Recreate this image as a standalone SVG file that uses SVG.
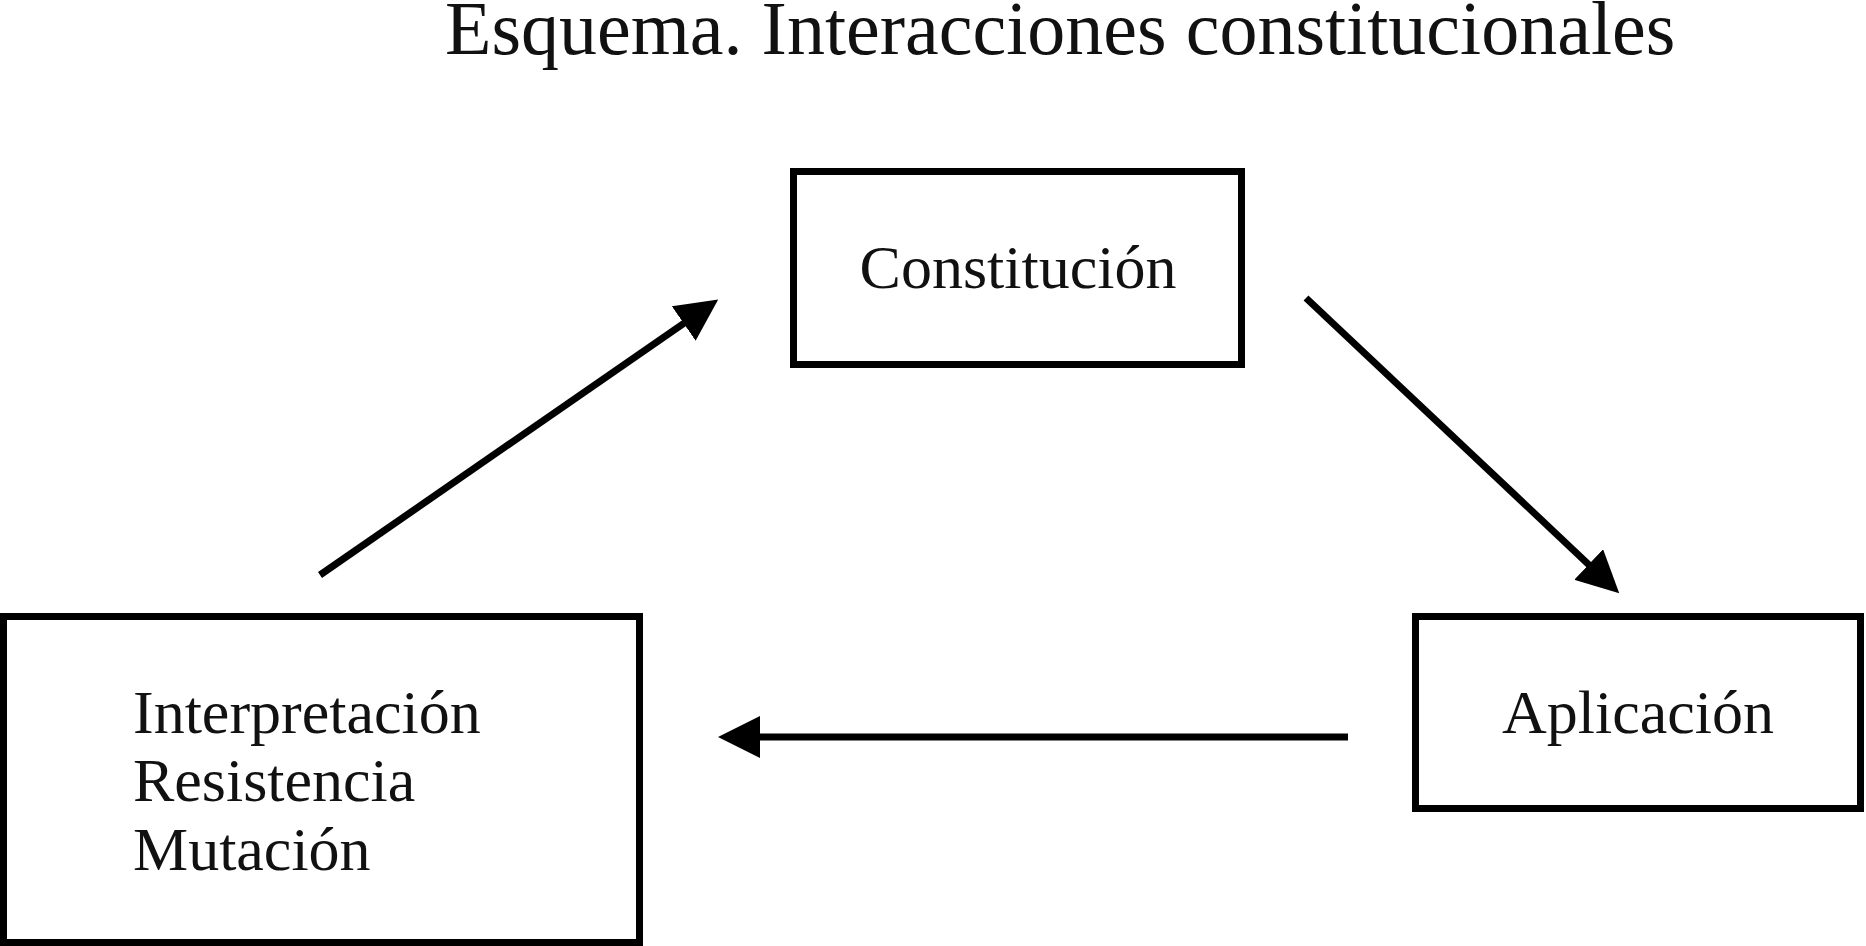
<svg xmlns="http://www.w3.org/2000/svg" width="1866" height="946" viewBox="0 0 1866 946">
  <style>
    .box { fill: #ffffff; stroke: #000000; stroke-width: 7; }
    .lbl { font-family: "Liberation Serif", "Times New Roman", serif; font-size: 62px; fill: #111111; }
    .title { font-family: "Liberation Serif", "Times New Roman", serif; font-size: 76px; fill: #111111; }
    .conn { fill: none; stroke: #000000; stroke-width: 7; marker-end: url(#arrow); }
  </style>
  <defs>
    <marker id="arrow" markerUnits="userSpaceOnUse" viewBox="0 0 42 42" markerWidth="42" markerHeight="42" refX="1" refY="21" orient="auto">
      <path d="M0,0 L42,21 L0,42 Z" fill="#000000"/>
    </marker>
  </defs>
  <rect x="0" y="0" width="1866" height="946" fill="#ffffff"/>
  <text id="title" class="title" x="445" y="54">Esquema. Interacciones constitucionales</text>

  <g id="node-constitucion">
    <rect class="box" x="793.5" y="171.5" width="448" height="193"/>
    <text class="lbl" x="1018" y="288" text-anchor="middle">Constitución</text>
  </g>
  <g id="node-aplicacion">
    <rect class="box" x="1415.5" y="616.5" width="445" height="192"/>
    <text class="lbl" x="1638" y="733" text-anchor="middle">Aplicación</text>
  </g>
  <g id="node-interpretacion">
    <rect class="box" x="3.5" y="616.5" width="636" height="326"/>
    <text class="lbl" x="133" y="733">Interpretación</text>
    <text class="lbl" x="133" y="801">Resistencia</text>
    <text class="lbl" x="133" y="870">Mutación</text>
  </g>

  <g id="connectors">
    <path class="conn" d="M320,575 L684.5,322.9"/>
    <path class="conn" d="M1306,298 L1589.4,565.2"/>
    <path class="conn" d="M1348,737 L759,737"/>
  </g>
</svg>
